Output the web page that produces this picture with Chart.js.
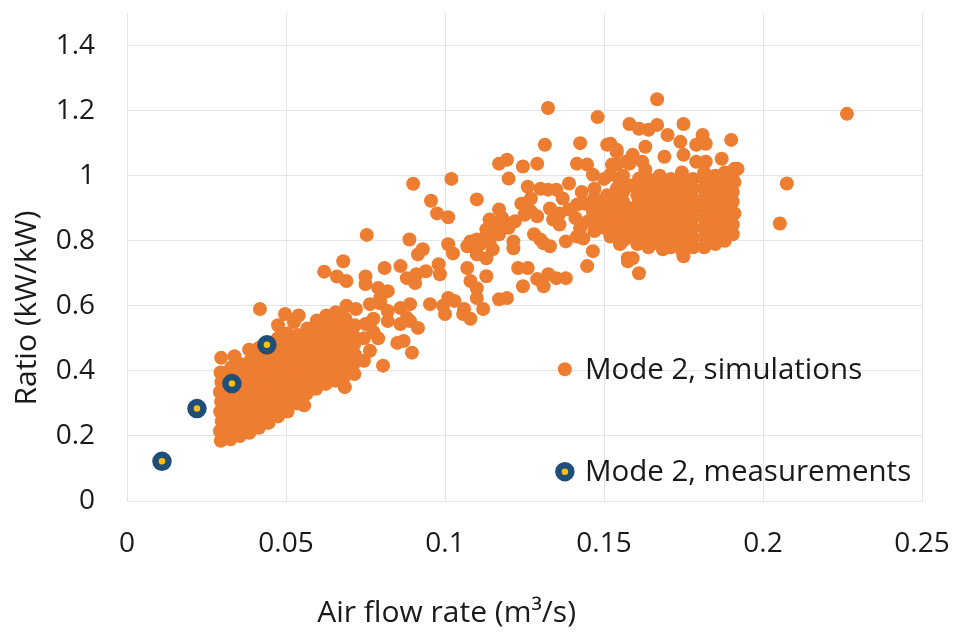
<!DOCTYPE html>
<html>
<head>
<meta charset="utf-8">
<script src="https://cdn.jsdelivr.net/npm/chart.js@4/dist/chart.umd.min.js"></script>
<style>
  html, body { margin: 0; padding: 0; background: #ffffff; }
  #wrap { width: 958px; height: 637px; position: relative; }
</style>
</head>
<body>
<div id="wrap"><canvas id="c"></canvas></div>
<script>
// ---------- data ----------
const xTickValues = [0, 0.05, 0.1, 0.15, 0.2, 0.25];
const xTickLabels = ['0', '0.05', '0.1', '0.15', '0.2', '0.25'];
const yTickValues = [0, 0.2, 0.4, 0.6, 0.8, 1.0, 1.2, 1.4];
const yTickLabels = ['0', '0.2', '0.4', '0.6', '0.8', '1', '1.2', '1.4'];

const xTitle = 'Air flow rate (m\u00B3/s)';
const yTitle = 'Ratio (kW/kW)';
const seriesNames = ['Mode 2, simulations', 'Mode 2, measurements'];

// measurements: [air flow rate, ratio]
const measurements = [[0.011, 0.122], [0.022, 0.284], [0.033, 0.361], [0.044, 0.48]];

// simulations: [air flow rate, ratio]
const simulationsLow = [
  [0.0295,0.185],[0.0292,0.215],[0.0298,0.245],[0.0293,0.275],[0.0296,0.305],[0.0292,0.335],[0.0297,0.365],[0.0294,0.395],[0.0296,0.44],
  [0.0325,0.19],[0.0322,0.22],[0.0327,0.25],[0.0324,0.285],[0.0321,0.315],[0.0326,0.345],[0.0323,0.375],[0.0327,0.41],[0.0338,0.445],
  [0.0355,0.2],[0.0352,0.235],[0.0357,0.265],[0.0354,0.295],[0.0351,0.325],[0.0356,0.355],[0.0353,0.385],[0.0357,0.42],
  [0.0385,0.21],[0.0382,0.245],[0.0387,0.275],[0.0384,0.305],[0.0381,0.34],[0.0386,0.37],[0.0383,0.40],[0.0387,0.43],[0.0384,0.465],
  [0.0415,0.225],[0.0412,0.255],[0.0417,0.29],[0.0414,0.32],[0.0411,0.35],[0.0416,0.38],[0.0413,0.41],[0.0417,0.44],[0.0414,0.47],[0.0418,0.59],
  [0.0445,0.24],[0.0442,0.27],[0.0447,0.30],[0.0444,0.33],[0.0441,0.36],[0.0446,0.39],[0.0443,0.42],[0.0447,0.45],
  [0.0475,0.26],[0.0472,0.29],[0.0477,0.32],[0.0474,0.35],[0.0471,0.38],[0.0476,0.41],[0.0473,0.44],[0.0477,0.47],[0.0474,0.50],[0.0475,0.54],
  [0.0505,0.275],[0.0502,0.305],[0.0507,0.335],[0.0504,0.365],[0.0501,0.395],[0.0506,0.425],[0.0503,0.455],[0.0507,0.485],[0.0504,0.515],[0.0497,0.575],
  [0.0535,0.30],[0.0532,0.33],[0.0537,0.36],[0.0534,0.39],[0.0531,0.42],[0.0536,0.45],[0.0533,0.48],[0.0537,0.51],[0.0525,0.55],[0.054,0.57],
  [0.0557,0.294],
  [0.0565,0.33],[0.0562,0.36],[0.0567,0.39],[0.0564,0.42],[0.0561,0.45],[0.0566,0.48],[0.0563,0.51],[0.0567,0.53],
  [0.0595,0.345],[0.0592,0.375],[0.0597,0.405],[0.0594,0.435],[0.0591,0.465],[0.0596,0.495],[0.0593,0.525],[0.0597,0.555],
  [0.0625,0.36],[0.0622,0.39],[0.0627,0.42],[0.0624,0.45],[0.0621,0.48],[0.0626,0.51],[0.0623,0.54],[0.0627,0.57],[0.062,0.705],
  [0.0655,0.37],[0.0652,0.40],[0.0657,0.43],[0.0654,0.46],[0.0651,0.49],[0.0656,0.52],[0.0653,0.55],[0.0657,0.58],[0.066,0.69],
  [0.0685,0.35],[0.0682,0.38],[0.0687,0.41],[0.0684,0.44],[0.0681,0.47],[0.0686,0.50],[0.0683,0.53],[0.0687,0.56],[0.069,0.60],[0.069,0.676],[0.068,0.737],
  [0.0715,0.39],[0.0712,0.42],[0.0717,0.45],[0.0714,0.48],[0.0711,0.51],[0.0716,0.54],[0.072,0.59],
  [0.0745,0.431],[0.0764,0.462],[0.0745,0.50],[0.075,0.544],[0.0764,0.605],[0.075,0.69],[0.075,0.667],[0.0754,0.818]
];
const simulationsMid = [
  [0.0775,0.52],[0.0775,0.56],[0.0796,0.608],[0.0805,0.416],[0.079,0.50],[0.082,0.553],[0.082,0.584],[0.0796,0.624],[0.079,0.655],[0.082,0.645],[0.081,0.716],
  [0.085,0.486],[0.087,0.492],[0.086,0.544],[0.086,0.593],[0.089,0.605],[0.086,0.722],
  [0.088,0.563],[0.089,0.553],[0.088,0.685],[0.0888,0.804],
  [0.0896,0.456],[0.0915,0.532],[0.0906,0.67],[0.091,0.697],[0.0915,0.758],[0.090,0.975],
  [0.093,0.774],[0.094,0.706],[0.0953,0.605],[0.0956,0.923],
  [0.0975,0.884],[0.098,0.728],[0.0984,0.697],[0.0994,0.60],[0.100,0.575],
  [0.101,0.624],[0.101,0.789],[0.101,0.872],[0.102,0.99],[0.1025,0.761],[0.103,0.615],
  [0.1057,0.575],[0.106,0.59],[0.107,0.716],[0.107,0.783],[0.108,0.676],[0.108,0.56],[0.108,0.798],
  [0.110,0.654],[0.110,0.624],[0.110,0.804],[0.110,0.758],[0.110,0.927],[0.111,0.789],[0.112,0.59],
  [0.113,0.813],[0.113,0.691],[0.113,0.746],[0.113,0.835],[0.114,0.865],[0.114,0.798],[0.115,0.85],[0.115,0.774],
  [0.116,0.85],[0.117,0.62],[0.117,0.82],[0.117,0.896],[0.117,1.037],[0.118,0.87],
  [0.1195,1.049],[0.1195,0.624],[0.120,0.991],[0.120,0.84],[0.1215,0.798],[0.1215,0.777],[0.122,0.86],
  [0.123,0.716],[0.124,0.914],[0.1245,0.66],[0.1245,1.028],[0.125,0.88],[0.126,0.716],[0.126,0.966],
  [0.127,0.93],[0.127,0.89],[0.128,0.82],[0.129,0.875],[0.129,0.682],[0.129,1.037],[0.130,0.804],[0.130,0.96],
  [0.131,0.792],[0.131,0.66],[0.1314,1.095],[0.1324,1.208],[0.1324,0.957],[0.1325,0.697],[0.133,0.899],[0.133,0.783],
  [0.134,0.865],[0.135,0.957],[0.135,0.685],[0.136,0.884],[0.136,0.85],[0.138,0.798],[0.138,0.685],
  [0.139,0.896],[0.139,0.976],[0.1415,0.911],[0.1415,1.037],[0.1415,0.813],[0.1425,1.10],[0.1425,0.838],[0.1435,0.807],
  [0.144,0.914],[0.1447,1.034],[0.1447,0.722],[0.1465,0.89],[0.1465,1.003],[0.1465,0.768],
  [0.137,0.93],[0.141,0.87],[0.143,0.95],[0.145,0.86]
];
const simulationsHigh = [
  [0.148,1.18],[0.149,0.92],[0.151,0.94],[0.151,1.095],[0.152,1.003],[0.152,0.813],[0.152,1.098],[0.1525,1.034],
  [0.154,0.96],[0.154,1.034],[0.154,1.073],[0.154,1.08],[0.155,0.98],[0.155,0.79],[0.157,1.043],[0.1575,0.746],[0.1575,0.737],
  [0.158,1.159],[0.158,1.037],[0.159,1.064],[0.159,0.746],[0.161,1.144],[0.161,0.991],[0.161,0.70],[0.162,1.043],
  [0.163,1.089],[0.163,1.018],[0.164,1.141],[0.1667,1.156],[0.1667,1.235],[0.1685,0.774],[0.169,1.058],[0.170,1.125],
  [0.174,1.104],[0.175,1.159],[0.175,1.064],[0.175,0.752],[0.179,1.095],[0.179,1.043],[0.181,1.125],[0.182,1.098],[0.182,1.043],
  [0.187,1.052],[0.190,1.11],[0.191,1.021],[0.191,0.98],[0.191,0.884],[0.192,1.021],
  [0.2053,0.853],[0.2075,0.976],[0.2264,1.19],
  [0.147,0.83],[0.147,0.86],[0.147,0.93],[0.147,0.96],
  [0.150,0.84],[0.150,0.87],[0.150,0.90],[0.150,0.99],
  [0.153,0.82],[0.153,0.85],[0.153,0.88],[0.153,0.91],[0.153,0.94],
  [0.156,0.80],[0.156,0.83],[0.156,0.86],[0.156,0.89],[0.156,0.92],[0.156,0.95],[0.156,1.0],
  [0.158,0.81],[0.158,0.84],[0.158,0.87],[0.158,0.90],[0.158,0.97],
  [0.1605,0.79],[0.1605,0.82],[0.1605,0.85],[0.1605,0.88],[0.1605,0.91],[0.1605,0.94],[0.1605,0.97],
  [0.164,0.78],[0.164,0.81],[0.164,0.84],[0.164,0.87],[0.164,0.90],[0.164,0.93],[0.164,0.96],[0.164,0.99],
  [0.1675,0.79],[0.1675,0.82],[0.1675,0.85],[0.1675,0.88],[0.1675,0.91],[0.1675,0.94],[0.1675,0.97],[0.1675,1.0],
  [0.171,0.78],[0.171,0.81],[0.171,0.84],[0.171,0.87],[0.171,0.90],[0.171,0.93],[0.171,0.96],[0.171,0.99],
  [0.1745,0.77],[0.1745,0.80],[0.1745,0.83],[0.1745,0.86],[0.1745,0.89],[0.1745,0.92],[0.1745,0.95],[0.1745,0.98],[0.1745,1.01],
  [0.178,0.78],[0.178,0.81],[0.178,0.84],[0.178,0.87],[0.178,0.90],[0.178,0.93],[0.178,0.96],[0.178,0.99],
  [0.1815,0.78],[0.1815,0.81],[0.1815,0.84],[0.1815,0.87],[0.1815,0.90],[0.1815,0.93],[0.1815,0.96],[0.1815,0.99],[0.1815,1.01],
  [0.185,0.79],[0.185,0.82],[0.185,0.85],[0.185,0.88],[0.185,0.91],[0.185,0.94],[0.185,0.97],[0.185,1.0],
  [0.188,0.80],[0.188,0.83],[0.188,0.86],[0.188,0.89],[0.188,0.92],[0.188,0.95],[0.188,0.98],[0.188,1.01],
  [0.1905,0.82],[0.1905,0.85],[0.1905,0.88],[0.1905,0.92],[0.1905,0.95],[0.1905,0.99],
  [0.1625,0.80],[0.166,0.865],[0.1695,0.925],[0.173,0.985],[0.1765,0.845],[0.180,0.905],[0.1835,0.965],[0.1865,0.84],[0.1895,0.90]
];

// ---------- style ----------
const ORANGE = '#ED7D31';
const NAVY = '#1F4E79';
const GOLD = '#FFC000';
const TEXT = '#1a1a1a';
const GRID = '#e4e4e4';
const FONT = "'Open Sans', 'DejaVu Sans', sans-serif";
const FS = 28;      // tick labels
const FS_T = 30;    // axis titles
const FS_L = 29.5;  // legend

const toXY = arr => arr.map(p => ({ x: p[0], y: p[1] }));
const simulations = simulationsLow.concat(simulationsMid, simulationsHigh);

const overlay = {
  id: 'overlay',
  afterDraw(chart) {
    const { ctx, chartArea, scales: { x, y } } = chart;
    ctx.save();
    ctx.fillStyle = TEXT;
    ctx.font = FS_T + 'px ' + FONT;
    ctx.textBaseline = 'middle';
    // axis titles
    ctx.textAlign = 'center';
    ctx.fillText(xTitle, x.getPixelForValue(0.1005), chartArea.bottom + 112);
    ctx.save();
    ctx.translate(27, y.getPixelForValue(0.593));
    ctx.rotate(-Math.PI / 2);
    ctx.fillText(yTitle, 0, 0);
    ctx.restore();
    // legend (inside plot area)
    const lx = x.getPixelForValue(0.1377);
    const ly1 = y.getPixelForValue(0.405);
    const ly2 = y.getPixelForValue(0.09);
    ctx.beginPath();
    ctx.arc(lx, ly1, 7, 0, Math.PI * 2);
    ctx.fillStyle = ORANGE;
    ctx.fill();
    ctx.beginPath();
    ctx.arc(lx, ly2, 6.5, 0, Math.PI * 2);
    ctx.fillStyle = GOLD;
    ctx.fill();
    ctx.lineWidth = 6.5;
    ctx.strokeStyle = NAVY;
    ctx.stroke();
    ctx.fillStyle = TEXT;
    ctx.font = FS_L + 'px ' + FONT;
    ctx.textAlign = 'left';
    ctx.fillText(seriesNames[0], lx + 20, ly1 + 1);
    ctx.fillText(seriesNames[1], lx + 20, ly2 + 1);
    ctx.restore();
  }
};

new Chart(document.getElementById('c'), {
  type: 'scatter',
  data: {
    datasets: [
      {
        label: seriesNames[1],
        data: toXY(measurements),
        pointRadius: 6.5,
        pointHoverRadius: 6.5,
        pointBorderWidth: 6.5,
        pointBackgroundColor: GOLD,
        pointBorderColor: NAVY,
        backgroundColor: GOLD,
        borderColor: NAVY
      },
      {
        label: seriesNames[0],
        data: toXY(simulations),
        pointRadius: 7,
        pointHoverRadius: 7,
        pointBorderWidth: 0,
        pointBackgroundColor: ORANGE,
        backgroundColor: ORANGE,
        borderColor: ORANGE
      }
    ]
  },
  options: {
    responsive: true,
    maintainAspectRatio: false,
    animation: false,
    events: [],
    layout: { padding: { left: 0, right: 36, top: 10, bottom: 0 } },
    plugins: {
      legend: { display: false },
      tooltip: { enabled: false },
      title: { display: false }
    },
    scales: {
      x: {
        type: 'linear',
        min: 0,
        max: 0.25,
        afterFit(scale) {
          scale.height = 136;
          scale.paddingLeft = 0; scale.paddingRight = 0;
          scale.paddingTop = 0; scale.paddingBottom = 0;
        },
        afterBuildTicks(scale) { scale.ticks = xTickValues.map(v => ({ value: v })); },
        grid: { color: GRID, lineWidth: 1, drawTicks: false },
        border: { color: GRID, width: 1 },
        ticks: {
          padding: 26,
          color: TEXT,
          font: { family: FONT, size: FS },
          maxRotation: 0,
          callback: (v, i) => xTickLabels[i]
        }
      },
      y: {
        type: 'linear',
        min: 0,
        max: 1.5,
        afterFit(scale) {
          scale.width = 127;
          scale.paddingTop = 0; scale.paddingBottom = 0;
          scale.paddingLeft = 0; scale.paddingRight = 0;
        },
        afterBuildTicks(scale) { scale.ticks = yTickValues.map(v => ({ value: v })); },
        grid: { color: GRID, lineWidth: 1, drawTicks: false },
        border: { color: GRID, width: 1 },
        ticks: {
          padding: 32,
          color: TEXT,
          font: { family: FONT, size: FS },
          callback: (v, i) => yTickLabels[i]
        }
      }
    }
  },
  plugins: [overlay]
});
</script>
</body>
</html>
